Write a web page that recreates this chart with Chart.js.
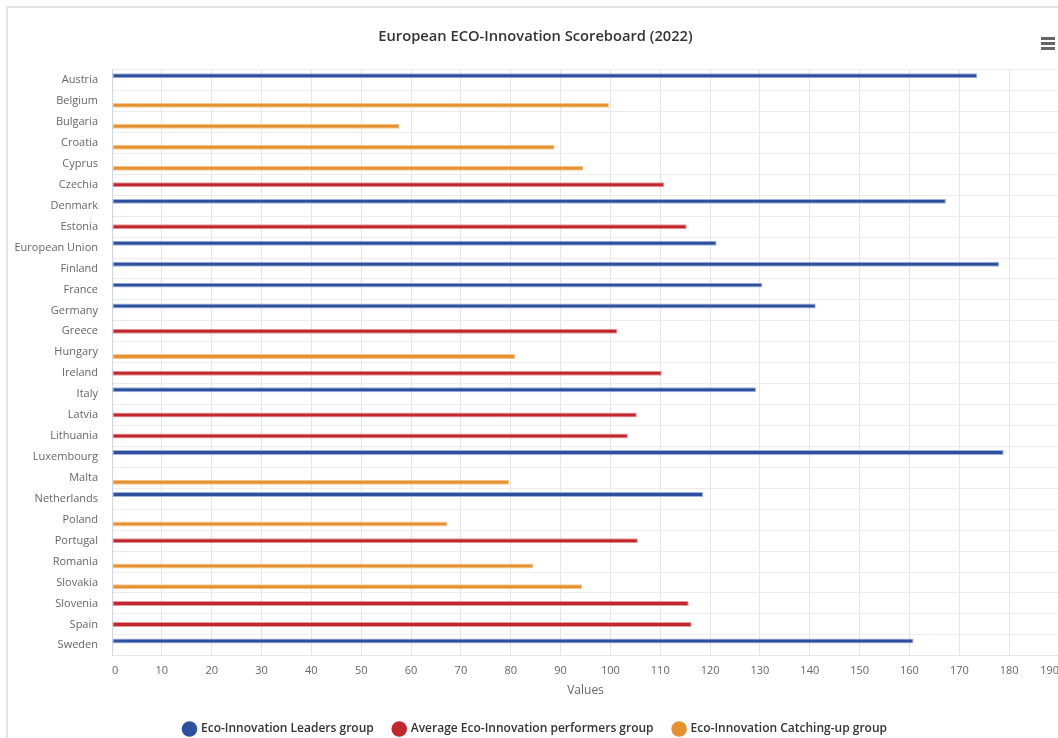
<!DOCTYPE html>
<html>
<head>
<meta charset="utf-8">
<script src="https://cdn.jsdelivr.net/npm/chart.js@4.4.1/dist/chart.umd.min.js"></script>
<style>
  body { margin: 0; background: #fff; overflow: hidden; width: 1058px; height: 738px; }
  #card { position: absolute; left: 6px; top: 6px; width: 1080px; height: 780px;
          border-top: 2px solid #e4e4e4; border-left: 2px solid #e4e4e4; }
  #wrap { position: absolute; left: 0; top: 8px; width: 1077px; height: 760px; }
  #menu { position: absolute; left: 1041px; top: 37px; width: 14px; }
  #menu div { height: 3px; background: #666; margin-bottom: 2px; }
</style>
</head>
<body>
<div id="card"></div>
<div id="wrap"><canvas id="ecoChart"></canvas></div>
<div id="menu"><div></div><div></div><div></div></div>
<script>
const countries = ['Austria', 'Belgium', 'Bulgaria', 'Croatia', 'Cyprus', 'Czechia', 'Denmark', 'Estonia',
  'European Union', 'Finland', 'France', 'Germany', 'Greece', 'Hungary', 'Ireland', 'Italy', 'Latvia',
  'Lithuania', 'Luxembourg', 'Malta', 'Netherlands', 'Poland', 'Portugal', 'Romania', 'Slovakia',
  'Slovenia', 'Spain', 'Sweden'];

// one value per country, null where the country is in another group
const leaders = [173.6, null, null, null, null, null, 167.3, null, 121.3, 178.0, 130.5, 141.2, null, null,
  null, 129.2, null, null, 178.9, null, 118.6, null, null, null, null, null, null, 160.8];
const averagePerformers = [null, null, null, null, null, 110.8, null, 115.3, null, null, null, null, 101.4, null,
  110.3, null, 105.3, 103.5, null, null, null, null, 105.5, null, null, 115.7, 116.3, null];
const catchingUp = [null, 99.7, 57.7, 88.8, 94.5, null, null, null, null, null, null, null, null, 80.9,
  null, null, null, null, null, 79.7, null, 67.3, null, 84.5, 94.3, null, null, null];

const xTicks = [0, 10, 20, 30, 40, 50, 60, 70, 80, 90, 100, 110, 120, 130, 140, 150, 160, 170, 180, 190];

const fontName = "'Open Sans', 'Liberation Sans', sans-serif";

function makeSet(label, data, color, halo) {
  return {
    label: label,
    data: data,
    backgroundColor: color,
    borderColor: halo,
    borderWidth: 1,
    borderSkipped: false,
    categoryPercentage: 0.62,
    barPercentage: 1.15
  };
}

const ctx = document.getElementById('ecoChart');
const ecoChart = new Chart(ctx, {
  type: 'bar',
  data: {
    labels: countries,
    datasets: [
      makeSet('Eco-Innovation Leaders group', leaders, '#2e4f9e', '#9fb3dc'),
      makeSet('Average Eco-Innovation performers group', averagePerformers, '#c1272d', '#e69a9d'),
      makeSet('Eco-Innovation Catching-up group', catchingUp, '#e6912f', '#f3c68f')
    ]
  },
  options: {
    indexAxis: 'y',
    responsive: true,
    maintainAspectRatio: false,
    animation: false,
    layout: {
      padding: { left: 12, right: 18, top: 0, bottom: 23 }
    },
    scales: {
      x: {
        min: 0,
        max: 190,
        afterBuildTicks: function (axis) {
          axis.ticks = xTicks.map(v => ({ value: v }));
        },
        grid: { color: '#e6e6e6', drawTicks: false },
        border: { color: '#e6e6e6' },
        ticks: { color: '#666', padding: 8, align: 'inner', font: { family: fontName, size: 11 } },
        title: {
          display: true,
          text: 'Values',
          color: '#666',
          padding: { top: 0, bottom: 6 },
          font: { family: fontName, size: 12, lineHeight: 1 }
        }
      },
      y: {
        afterFit: function (axis) {
          axis.width = 100;
        },
        grid: { color: '#ececec', drawTicks: false },
        border: { color: '#ccd6eb' },
        ticks: { color: '#666', padding: 14, autoSkip: false, font: { family: fontName, size: 11 } }
      }
    },
    plugins: {
      title: {
        display: true,
        text: 'European ECO-Innovation Scoreboard (2022)',
        color: '#333',
        padding: { top: 20, bottom: 24 },
        font: { family: fontName, size: 14.7, weight: '600' }
      },
      legend: {
        position: 'bottom',
        labels: {
          usePointStyle: true,
          pointStyle: 'circle',
          boxWidth: 11,
          boxHeight: 11,
          padding: 20,
          color: '#333',
          font: { family: fontName, size: 12, weight: '600' },
          generateLabels: function (chart) {
            return chart.data.datasets.map(function (ds, i) {
              return {
                text: ds.label,
                fillStyle: ds.backgroundColor,
                strokeStyle: ds.backgroundColor,
                lineWidth: 0,
                pointStyle: 'circle',
                fontColor: '#333',
                datasetIndex: i,
                hidden: false
              };
            });
          }
        }
      },
      tooltip: { enabled: false }
    }
  }
});
</script>
</body>
</html>
